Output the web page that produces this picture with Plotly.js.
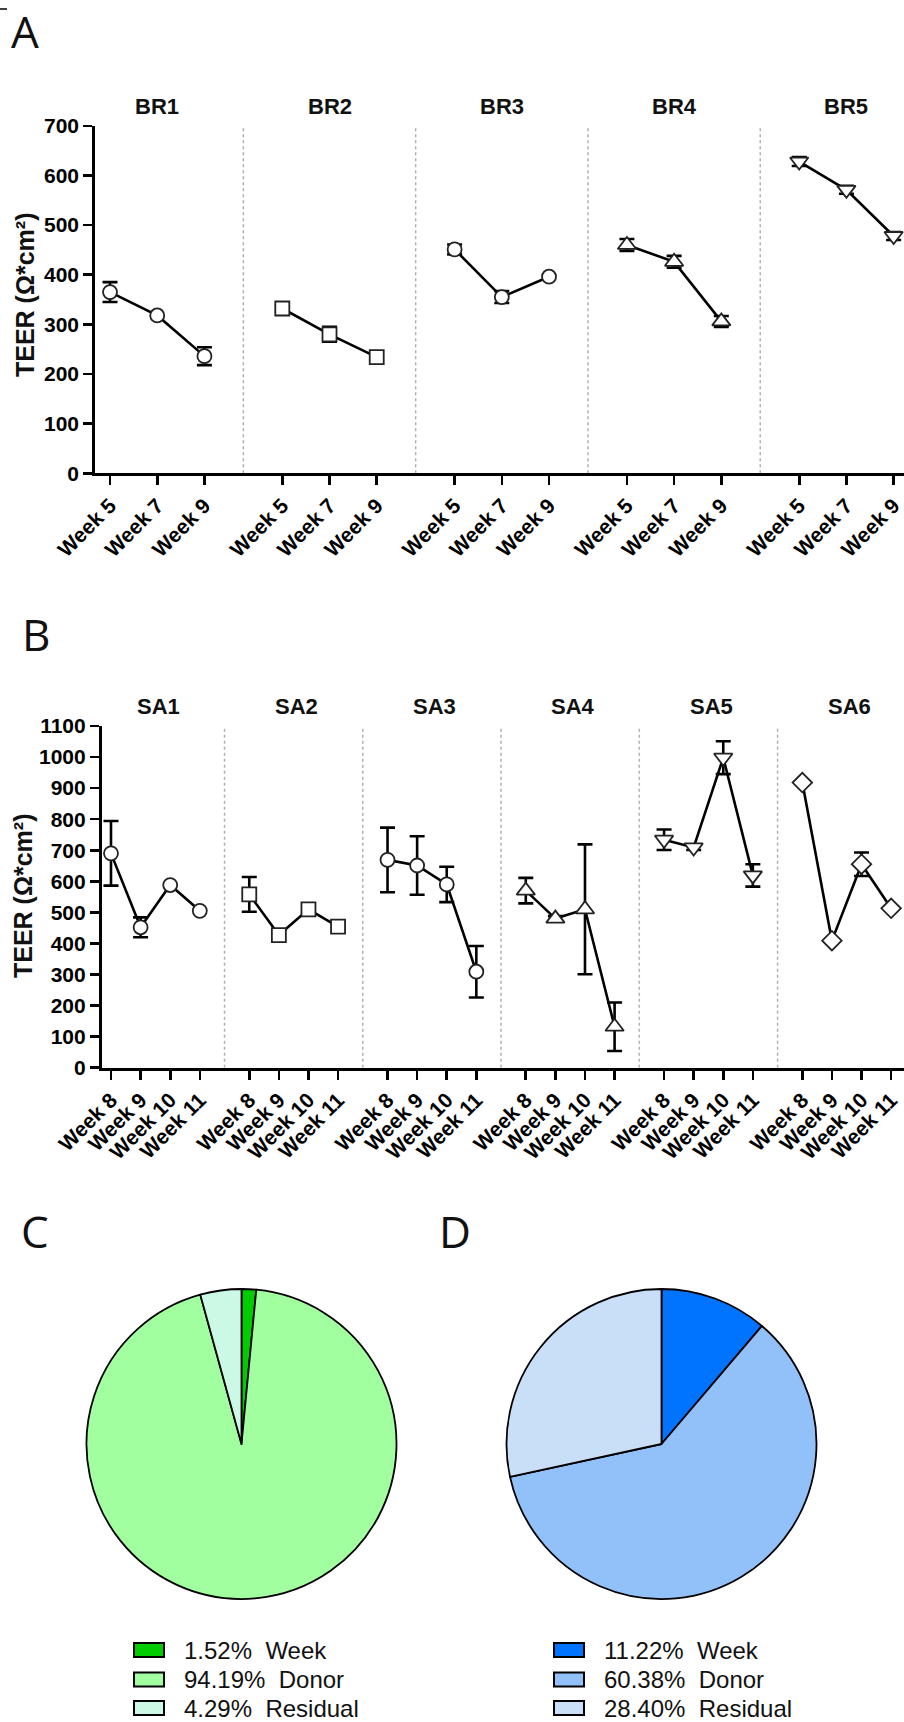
<!DOCTYPE html>
<html>
<head>
<meta charset="utf-8">
<script src="https://cdn.plot.ly/plotly-3.0.1.min.js"></script>
<style>html,body{margin:0;padding:0;background:#fff;}#plot{width:904px;height:1722px;}</style>
</head>
<body>
<div id="plot"></div>
<script>
// ---------------- DATA ----------------
const brGroups = ['BR1', 'BR2', 'BR3', 'BR4', 'BR5'];
const brWeeks = ['Week 5', 'Week 7', 'Week 9'];
const br1 = [365, 318, 236];  const br1Err = [20, null, 18];
const br2 = [332, 280, 234];  const br2Err = [6, 15, null];
const br3 = [451, 355, 396];  const br3Err = [10, 12, null];
const br4 = [460, 426, 306];  const br4Err = [12, 12, 11];
const br5 = [628, 571, 478];  const br5Err = [9, 8, 8];

const saGroups = ['SA1', 'SA2', 'SA3', 'SA4', 'SA5', 'SA6'];
const saWeeks = ['Week 8', 'Week 9', 'Week 10', 'Week 11'];
const sa1 = [690, 452, 588, 505];  const sa1Err = [104, 32, null, null];
const sa2 = [558, 427, 510, 454];  const sa2Err = [56, null, 8, null];
const sa3 = [669, 651, 590, 309];  const sa3Err = [104, 94, 57, 83];
const sa4 = [570, 480, 510, 132];  const sa4Err = [41, 8, 209, 78];
const sa5 = [734, 709, 998, 619];  const sa5Err = [33, 8, 53, 36];
const sa6 = [918, 409, 655, 513];  const sa6Err = [null, null, 38, null];

const pieLabels = ['Week', 'Donor', 'Residual'];
const pieC = [1.52, 94.19, 4.29];
const pieD = [11.22, 60.38, 28.40];
const pieCColors = ['#00cc00', '#a2ffa0', '#ccf9e6'];
const pieDColors = ['#0073ff', '#92c0f8', '#c9dff8'];

// ---------------- LAYOUT HELPERS ----------------
const W = 904, H = 1722;
const px = p => p / W;
const py = p => 1 - p / H;
const FONT = 'Liberation Sans, Arial, sans-serif';

const PA = 3.65;   // group period (in tick units) for panel A
const PB = 4.671;  // group period for panel B

const brSeries = [br1, br2, br3, br4, br5];
const brErrs = [br1Err, br2Err, br3Err, br4Err, br5Err];
const brSymbols = ['circle', 'square', 'circle', 'triangle-up', 'triangle-down'];
const saSeries = [sa1, sa2, sa3, sa4, sa5, sa6];
const saErrs = [sa1Err, sa2Err, sa3Err, sa4Err, sa5Err, sa6Err];
const saSymbols = ['circle', 'square', 'circle', 'triangle-up', 'triangle-down', 'diamond'];

const symSize = s => (s.indexOf('triangle') === 0 ? 16 : (s === 'diamond' ? 15 : 14));

const traces = [];
function addGroups(groups, weeks, series, errs, symbols, P, xa, ya) {
  groups.forEach((g, gi) => {
    const xs = weeks.map((w, i) => gi * P + i);
    traces.push({
      type: 'scatter', mode: 'lines+markers', name: g,
      x: xs, y: series[gi], xaxis: xa, yaxis: ya,
      line: {color: '#000', width: 2.6},
      marker: {symbol: symbols[gi], size: symSize(symbols[gi]), color: '#fff', line: {color: '#222', width: 1.8}},
      error_y: {type: 'data', array: errs[gi].map(v => v == null ? NaN : v), visible: true, thickness: 2.6, width: 7.5, color: '#000'},
      showlegend: false, hoverinfo: 'skip', cliponaxis: false
    });
  });
}
addGroups(brGroups, brWeeks, brSeries, brErrs, brSymbols, PA, 'x', 'y');
addGroups(saGroups, saWeeks, saSeries, saErrs, saSymbols, PB, 'x2', 'y2');

function pieTrace(vals, colors, x0, x1, y0, y1) {
  return {
    type: 'pie', values: vals, labels: pieLabels, sort: false, direction: 'clockwise', rotation: 0,
    marker: {colors: colors, line: {color: '#000', width: 1.8}},
    textinfo: 'none', hoverinfo: 'skip', showlegend: false,
    domain: {x: [px(x0), px(x1)], y: [py(y1), py(y0)]}
  };
}
traces.push(pieTrace(pieC, pieCColors, 86, 397, 1289, 1599));
traces.push(pieTrace(pieD, pieDColors, 506, 817, 1289, 1599));

const shapes = [];
const annotations = [];

function sepShapes(groups, nW, P, xa, ya, ymax) {
  for (let g = 0; g < groups.length - 1; g++) {
    const xs = g * P + (nW - 1) + (P - (nW - 1)) / 2;
    shapes.push({type: 'line', xref: xa, yref: ya, x0: xs, x1: xs, y0: 0, y1: ymax,
      line: {color: '#b0b0b0', width: 1.5, dash: 'dot'}, layer: 'below'});
  }
}
sepShapes(brGroups, brWeeks.length, PA, 'x', 'y', 700);
sepShapes(saGroups, saWeeks.length, PB, 'x2', 'y2', 1100);

brGroups.forEach((g, gi) => annotations.push({xref: 'x', yref: 'paper', x: gi * PA + 1, y: py(106),
  text: g, showarrow: false, xanchor: 'center', yanchor: 'middle', font: {family: FONT, size: 22, weight: 'bold', color: '#111'}}));
saGroups.forEach((g, gi) => annotations.push({xref: 'x2', yref: 'paper', x: gi * PB + 1.6, y: py(706.5),
  text: g, showarrow: false, xanchor: 'center', yanchor: 'middle', font: {family: FONT, size: 22, weight: 'bold', color: '#111'}}));

const yTitle = 'TEER (\u03A9*cm\u00B2)';
annotations.push({xref: 'paper', yref: 'paper', x: px(25), y: py(295), text: yTitle, textangle: -90, showarrow: false,
  xanchor: 'center', yanchor: 'middle', font: {family: FONT, size: 25, weight: 'bold', color: '#111'}});
annotations.push({xref: 'paper', yref: 'paper', x: px(23), y: py(896), text: yTitle, textangle: -90, showarrow: false,
  xanchor: 'center', yanchor: 'middle', font: {family: FONT, size: 25, weight: 'bold', color: '#111'}});

// panel letters
[['A', 25, 31], ['B', 36, 634], ['C', 35, 1231], ['D', 455, 1231]].forEach(([t, x, y]) => annotations.push({
  xref: 'paper', yref: 'paper', x: px(x), y: py(y), text: t, showarrow: false, xanchor: 'center', yanchor: 'middle',
  font: {family: 'Open Sans, Noto Sans, sans-serif', size: 44, color: '#111'}}));
shapes.push({type: 'line', xref: 'paper', yref: 'paper', x0: 0, x1: px(7), y0: py(9), y1: py(9), line: {color: '#000', width: 1.5}});

// pie legends
function pieLegend(vals, colors, boxX, textX) {
  const rows = [1650, 1679.5, 1708];
  vals.forEach((v, i) => {
    shapes.push({type: 'rect', xref: 'paper', yref: 'paper', x0: px(boxX), x1: px(boxX + 30),
      y0: py(rows[i] + 7), y1: py(rows[i] - 7), fillcolor: colors[i], line: {color: '#000', width: 2}});
    annotations.push({xref: 'paper', yref: 'paper', x: px(textX), y: py(rows[i]), xanchor: 'left', yanchor: 'middle',
      text: v.toFixed(2) + '%\u00a0\u00a0' + pieLabels[i], showarrow: false,
      font: {family: FONT, size: 24, color: '#111'}});
  });
}
pieLegend(pieC, pieCColors, 134, 182);
pieLegend(pieD, pieDColors, 554, 602);

function xAxis(domainLeft, weeks, groups, P, right) {
  const tv = [], tt = [];
  groups.forEach((g, gi) => weeks.forEach((w, i) => { tv.push(gi * P + i); tt.push(w); }));
  return {domain: [px(domainLeft), 1], range: [-(right[0]), right[1]], tickmode: 'array', tickvals: tv, ticktext: tt,
    tickangle: -45, ticks: 'outside', ticklen: 9, tickwidth: 2.6, tickcolor: '#000',
    showline: true, linecolor: '#000', linewidth: 2.8, showgrid: false, zeroline: false, fixedrange: true,
    tickfont: {family: FONT, size: 21, weight: 'bold', color: '#000'}};
}
function yAxis(y0, y1, max) {
  return {domain: [py(y1), py(y0)], range: [0, max], dtick: 100, tick0: 0, ticks: 'outside', ticklen: 9, tickwidth: 2.6,
    tickcolor: '#000', showline: true, linecolor: '#000', linewidth: 2.8, showgrid: false, zeroline: false, fixedrange: true,
    tickfont: {family: FONT, size: 21, weight: 'bold', color: '#000'}};
}

const layout = {
  width: W, height: H, margin: {l: 0, r: 0, t: 0, b: 0}, paper_bgcolor: '#fff', plot_bgcolor: 'rgba(0,0,0,0)',
  showlegend: false,
  xaxis: Object.assign(xAxis(95, brWeeks, brGroups, PA, [0.318, 16.82]), {anchor: 'y'}),
  yaxis: Object.assign(yAxis(125.8, 473.3, 700), {anchor: 'x'}),
  xaxis2: Object.assign(xAxis(101.7, saWeeks, saGroups, PB, [0.314, 26.79]), {anchor: 'y2'}),
  yaxis2: Object.assign(yAxis(726, 1067.7, 1100), {anchor: 'x2'}),
  shapes: shapes, annotations: annotations
};

Plotly.newPlot('plot', traces, layout, {staticPlot: true, displayModeBar: false});
</script>
</body>
</html>
